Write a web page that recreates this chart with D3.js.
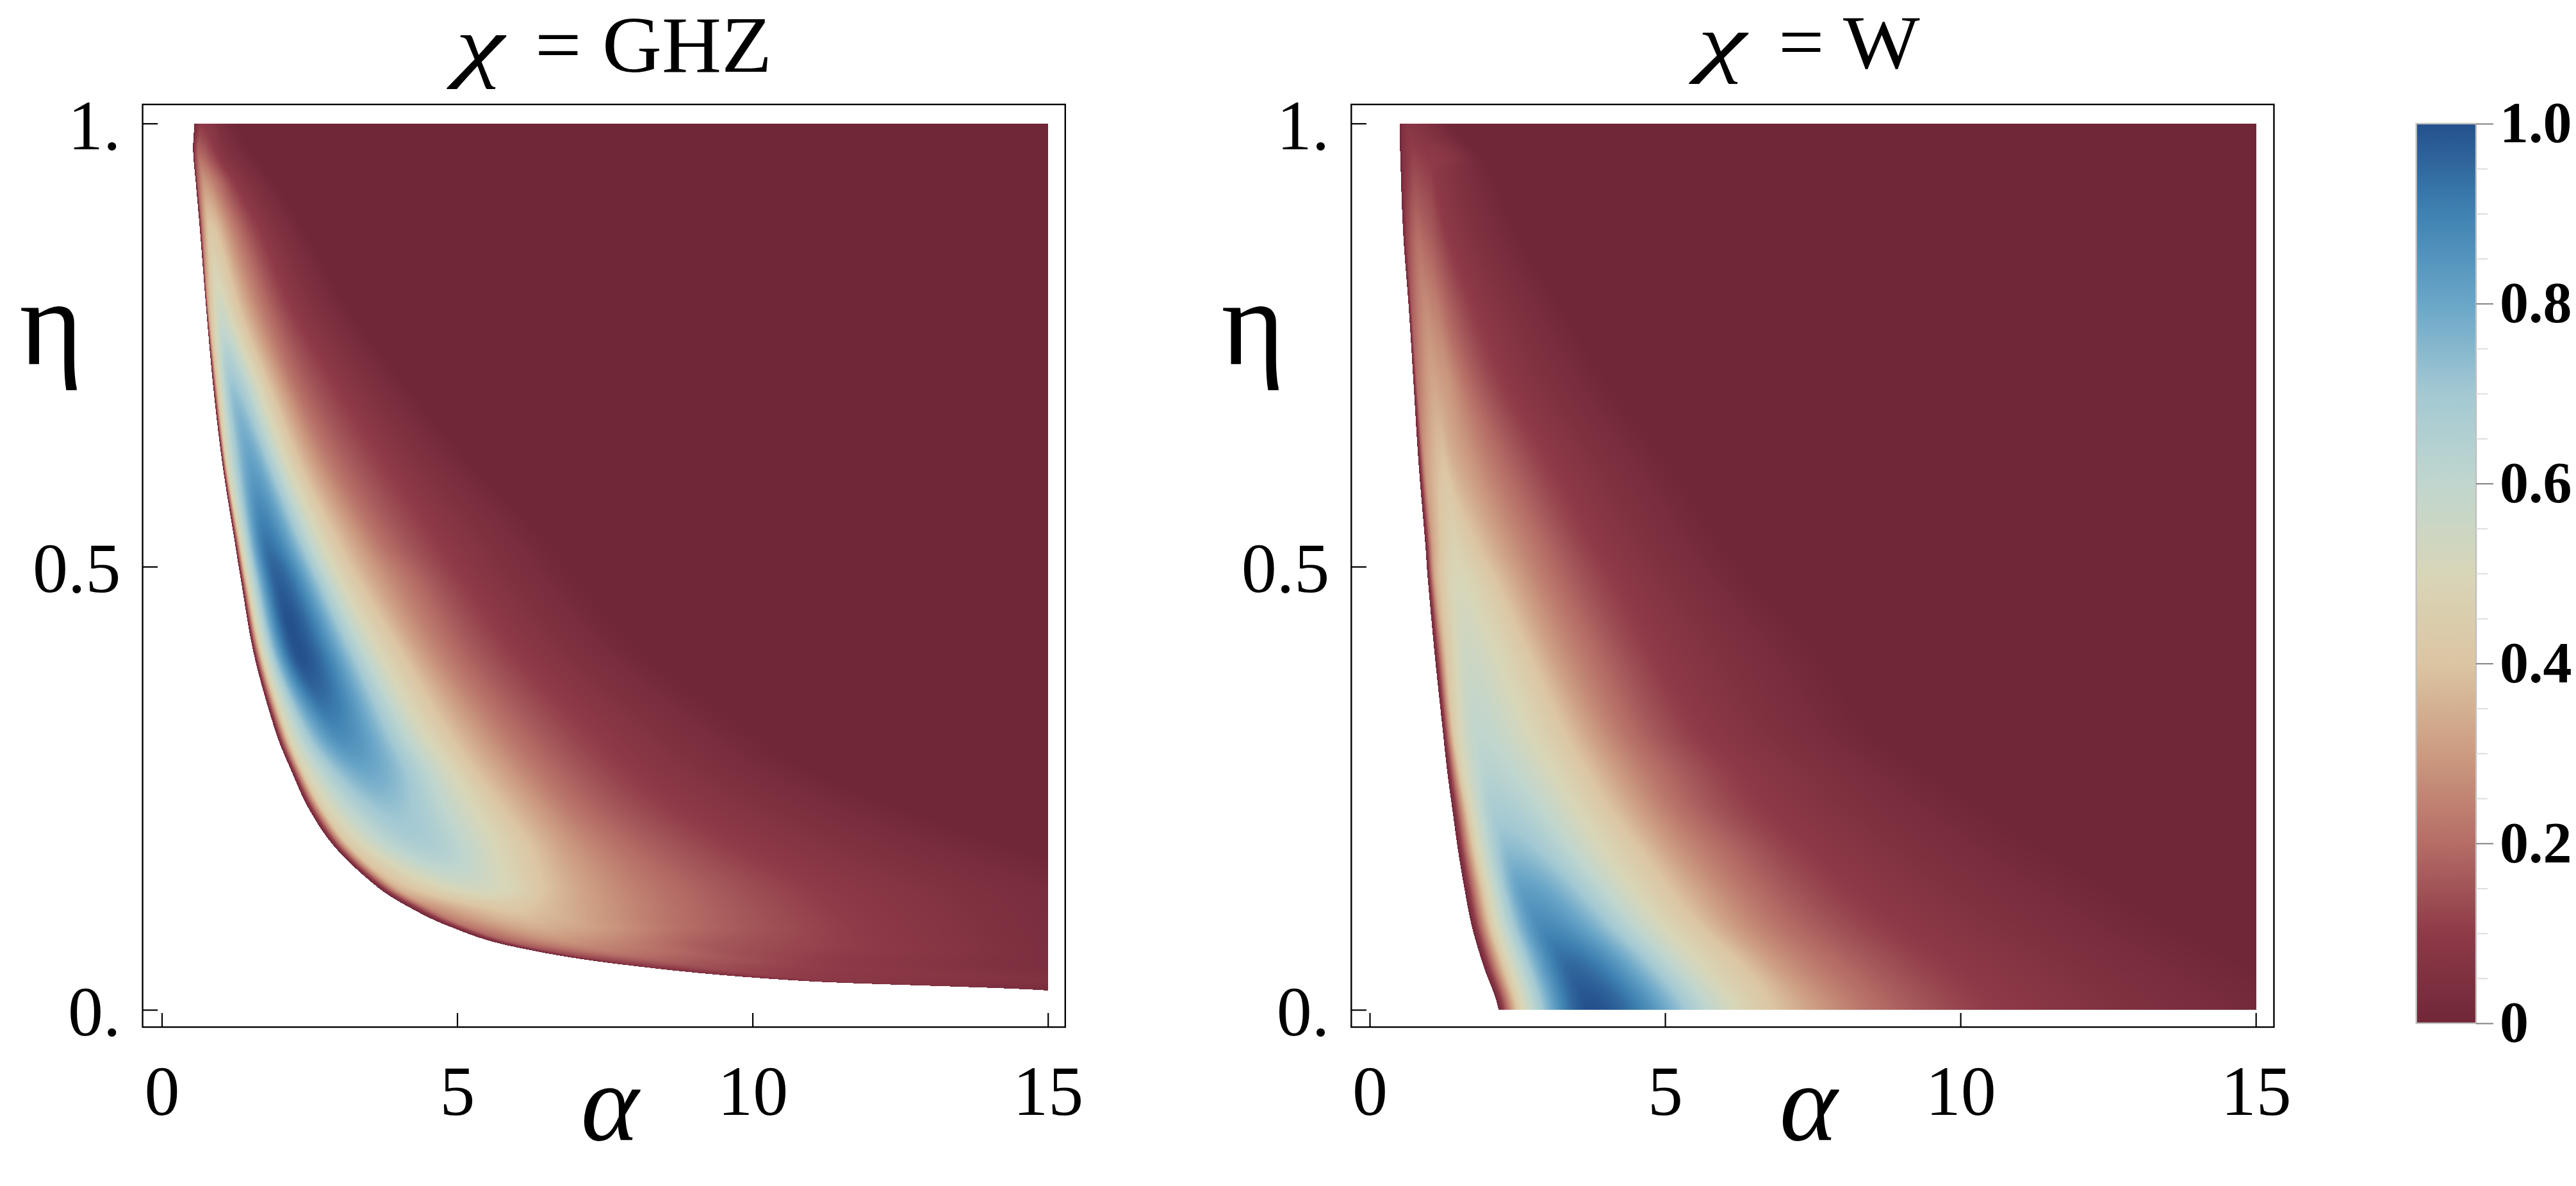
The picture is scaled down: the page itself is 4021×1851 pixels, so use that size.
<!DOCTYPE html>
<html><head><meta charset="utf-8">
<script src="https://cdn.jsdelivr.net/npm/d3@7/dist/d3.min.js"></script>
<style>html,body{margin:0;padding:0;background:#fff}svg{display:block}text{font-family:"Liberation Serif",serif;fill:#000}</style>
</head><body>
<script>
// Tick labels
const alphaTicks = [0, 5, 10, 15];
const etaTicks = [0, 0.5, 1];
const etaTickLabels = ["0.", "0.5", "1."];
const legendTicks = [0, 0.2, 0.4, 0.6, 0.8, 1];
const legendLabels = ["0", "0.2", "0.4", "0.6", "0.8", "1.0"];
const legendMinor = [0.05,0.1,0.15,0.25,0.3,0.35,0.45,0.5,0.55,0.65,0.7,0.75,0.85,0.9,0.95];
const colorDomain = [0,0.1,0.2,0.3,0.4,0.5,0.6,0.7,0.8,0.9,1];
const colorRange = ["#702738","#8e3a48","#b56d66","#cc9b80","#dcc5a2","#d8d6b8","#c0d6ce","#a3c9d3","#6aa6c8","#3f82b2","#24508c"];

// GHZ panel: each row is one eta; stops across the row run boundary, rise, peak, then the fall
const ghzEta = [1,0.97,0.93,0.876,0.789,0.701,0.614,0.526,0.4886,0.401,0.313,0.27,0.2255,0.182,0.138,0.116,0.094,0.072,0.0506,0.0325,0.0217];
const ghzAlpha = [
[0.55,0.58,0.66,0.72,0.78,0.85,0.92,1.0,1.25],
[0.53,0.56,0.63,0.68,0.73,0.78,0.84,1.0,1.5],
[0.58,0.62,0.73,0.78,0.84,0.9,1.0,1.27,1.95],
[0.65,0.70,0.82,0.90,0.98,1.12,1.34,1.69,2.45],
[0.754,0.80,1.0,1.2,1.32,1.53,1.80,2.23,3.2],
[0.874,0.95,1.2,1.66,1.84,2.06,2.33,2.99,4.2],
[1.03,1.12,1.52,2.14,2.35,2.62,3.0,3.83,5.3],
[1.24,1.35,1.78,2.73,3.0,3.35,3.79,4.73,6.6],
[1.33,1.45,1.95,3.0,3.3,3.68,4.22,5.1,7.0],
[1.56,1.72,2.33,3.7,4.07,4.45,5.0,6.05,8.2],
[1.93,2.15,3.0,4.45,4.85,5.35,6.0,7.3,10],
[2.19,2.42,3.45,4.9,5.3,5.85,6.55,7.95,11],
[2.5,2.78,3.9,5.3,5.8,6.4,7.15,8.8,12.6],
[2.95,3.25,4.5,5.66,6.25,6.9,7.9,9.9,14.5],
[3.66,4.0,5.35,5.85,6.46,7.3,8.6,11.1,16.5],
[4.18,4.55,5.9,6.1,6.5,7.4,8.8,11.5,17],
[4.87,5.2,6.46,6.7,7.0,7.5,8.9,11.8,17],
[5.9,6.2,7.2,7.5,7.8,8.2,9.3,12,17],
[7.85,8.05,9.0,9.5,10,10.5,11.2,13,18],
[10.87,11.0,11.4,11.8,12.3,13,14,15.5,18],
[15,15.1,15.2,15.3,15.4,15.5,15.6,15.7,21]];
const ghzValue = [
[0,0.05,0.1,0.09,0.08,0.07,0.06,0.04,0],
[0,0.1,0.18,0.17,0.16,0.14,0.12,0.07,0],
[0,0.18,0.3,0.29,0.27,0.24,0.2,0.1,0],
[0,0.25,0.42,0.41,0.38,0.3,0.2,0.1,0],
[0,0.35,0.55,0.46,0.4,0.3,0.2,0.1,0],
[0,0.42,0.72,0.5,0.4,0.3,0.2,0.1,0],
[0,0.5,0.82,0.5,0.4,0.3,0.2,0.1,0],
[0,0.5,0.93,0.5,0.4,0.3,0.2,0.1,0],
[0,0.5,0.97,0.5,0.4,0.3,0.2,0.1,0],
[0,0.5,1.0,0.5,0.4,0.3,0.2,0.1,0],
[0,0.5,0.88,0.5,0.4,0.3,0.2,0.1,0],
[0,0.48,0.8,0.5,0.4,0.3,0.2,0.1,0],
[0,0.46,0.72,0.5,0.4,0.3,0.2,0.1,0],
[0,0.42,0.66,0.5,0.4,0.3,0.2,0.1,0],
[0,0.36,0.53,0.5,0.4,0.3,0.2,0.1,0],
[0,0.28,0.42,0.41,0.38,0.3,0.2,0.1,0],
[0,0.22,0.35,0.34,0.33,0.3,0.2,0.1,0],
[0,0.16,0.26,0.25,0.24,0.22,0.16,0.1,0],
[0,0.09,0.15,0.14,0.13,0.12,0.105,0.07,0],
[0,0.05,0.09,0.085,0.08,0.07,0.065,0.05,0],
[0,0.02,0.03,0.03,0.03,0.03,0.03,0.03,0]];

// W panel
const wEta = [1,0.958,0.876,0.789,0.701,0.614,0.526,0.4886,0.401,0.313,0.27,0.2255,0.182,0.138,0.094,0.0506,0];
const wAlpha = [
[0.505,0.54,0.66,0.72,0.78,0.84,0.9,1.0,1.35],
[0.52,0.58,0.76,0.82,0.88,0.94,1.0,1.04,1.95],
[0.567,0.63,0.83,0.88,0.94,1.0,1.06,1.31,2.5],
[0.664,0.72,0.97,1.03,1.09,1.15,1.28,1.8,3.3],
[0.747,0.82,1.11,1.17,1.23,1.32,1.7,2.35,4.1],
[0.83,0.95,1.28,1.34,1.40,1.7,2.25,3.1,5.1],
[0.94,1.08,1.45,1.6,1.8,2.28,2.9,3.8,6],
[0.98,1.12,1.49,1.75,2.1,2.56,3.15,4.15,6.4],
[1.10,1.30,1.66,2.15,2.7,3.15,3.8,4.85,7.6],
[1.24,1.45,1.85,2.7,3.3,3.8,4.43,5.6,8.5],
[1.31,1.58,2.0,3.08,3.67,4.2,4.9,6.2,9.4],
[1.40,1.73,2.15,3.5,4.08,4.63,5.33,6.7,10.4],
[1.49,1.85,2.35,3.94,4.57,5.12,5.95,7.4,11.4],
[1.60,2.0,2.6,4.43,5.05,5.67,6.5,8.1,12.5],
[1.73,2.15,2.95,4.98,5.6,6.2,7.1,8.9,13.6],
[1.92,2.37,3.39,5.6,6.3,6.9,7.9,9.8,14.8],
[2.18,2.6,3.74,6.2,6.85,7.6,8.6,10.6,16]];
const wValue = [
[0,0.04,0.08,0.075,0.07,0.065,0.06,0.05,0],
[0,0.07,0.12,0.115,0.11,0.105,0.1,0.1,0],
[0,0.12,0.2,0.19,0.18,0.17,0.16,0.1,0],
[0,0.17,0.27,0.26,0.25,0.24,0.2,0.1,0],
[0,0.22,0.33,0.32,0.31,0.3,0.2,0.1,0],
[0,0.3,0.4,0.38,0.36,0.3,0.2,0.1,0],
[0,0.33,0.47,0.44,0.4,0.3,0.2,0.1,0],
[0,0.35,0.5,0.47,0.4,0.3,0.2,0.1,0],
[0,0.4,0.55,0.5,0.4,0.3,0.2,0.1,0],
[0,0.45,0.6,0.5,0.4,0.3,0.2,0.1,0],
[0,0.48,0.63,0.5,0.4,0.3,0.2,0.1,0],
[0,0.5,0.68,0.5,0.4,0.3,0.2,0.1,0],
[0,0.5,0.74,0.5,0.4,0.3,0.2,0.1,0],
[0,0.5,0.82,0.5,0.4,0.3,0.2,0.1,0],
[0,0.5,0.88,0.5,0.4,0.3,0.2,0.1,0],
[0,0.5,0.95,0.5,0.4,0.3,0.2,0.1,0],
[0,0.5,1.0,0.5,0.4,0.3,0.2,0.1,0]];

const pageW = 4021, pageH = 1851;
const frameTop = 163, frameBottom = 1603, tickY1 = 192.7, tickY0 = 1576;
const colorScale = d3.scaleLinear().domain(colorDomain).range(colorRange).clamp(true);
const lut = d3.range(1025).map(i=>d3.rgb(colorScale(i/1024)));
const svg = d3.select("body").append("svg").attr("width", pageW).attr("height", pageH);

const panels = [
 {name:"= GHZ", left:222.6, right:1662.8, x0:252.5, x15:1635.7, eta:ghzEta, a:ghzAlpha, v:ghzValue,
  chiX:711, chiLen:76, restX:835, restLen:370, titleY:112, titleSize:125, etaX:80, alphaX:952},
 {name:"= W", left:2109.3, right:3549.5, x0:2138, x15:3521.2, eta:wEta, a:wAlpha, v:wValue,
  chiX:2650, chiLen:76, restX:2776, restLen:221, titleY:106, titleSize:118, etaX:1956, alphaX:2823}
];

function drawField(p, xScale, yScale){
  const x0 = Math.floor(p.x0), x1 = Math.ceil(xScale(15));
  const y0 = Math.floor(yScale(1)), y1 = Math.ceil(yScale(0));
  const cw = x1-x0, ch = y1-y0;
  const cv = document.createElement("canvas"); cv.width = cw; cv.height = ch;
  const ctx = cv.getContext("2d"); const img = ctx.createImageData(cw,ch);
  const asc = p.eta.slice().reverse(), aR = p.a.slice().reverse(), vR = p.v.slice().reverse();
  const K = p.a[0].length;
  const pick = (M,i,k)=>M[Math.max(0,Math.min(M.length-1,i))][k];
  // Hermite blend between neighbouring rows so the drawn field has no creases
  const blend = (M,i,k,t)=>{
    const e0=asc[i],e1=asc[i+1], h=e1-e0;
    const pm=pick(M,i-1,k),p0=pick(M,i,k),p1=pick(M,i+1,k),p2=pick(M,i+2,k);
    const em=i>0?asc[i-1]:e0-h, e2=i+2<asc.length?asc[i+2]:e1+h;
    const m0=(p1-pm)/(e1-em)*h, m1=(p2-p0)/(e2-e0)*h;
    const t2=t*t,t3=t2*t;
    const r=(2*t3-3*t2+1)*p0+(t3-2*t2+t)*m0+(-2*t3+3*t2)*p1+(t3-t2)*m1;
    return Math.min(Math.max(p0,p1),Math.max(Math.min(p0,p1),r));
  };
  for(let py=0;py<ch;py++){
    const eta = yScale.invert(py+y0+0.5);
    if(eta<asc[0]||eta>1) continue;
    const i = Math.min(d3.bisectRight(asc,eta)-1,asc.length-2);
    const t=(eta-asc[i])/(asc[i+1]-asc[i]);
    const A=[],V=[];
    for(let k=0;k<K;k++){A.push(blend(aR,i,k,t));V.push(blend(vR,i,k,t));}
    for(let k=1;k<K;k++) if(A[k]<=A[k-1]) A[k]=A[k-1]+1e-4;
    // monotone cubic along the row: rounded crest, no overshoot
    const d=[],m=new Array(K);
    for(let k=0;k<K-1;k++) d.push((V[k+1]-V[k])/(A[k+1]-A[k]));
    m[0]=d[0]; m[K-1]=d[K-2];
    for(let k=1;k<K-1;k++) m[k]= d[k-1]*d[k]<=0?0:2*d[k-1]*d[k]/(d[k-1]+d[k]);
    let seg=0;
    for(let px=0;px<cw;px++){
      const al = xScale.invert(px+x0+0.5);
      if(al<A[0]||al>15.02) continue;
      let val;
      if(al>=A[K-1]) val=V[K-1];
      else {
        while(seg<K-2&&al>A[seg+1]) seg++;
        const h=A[seg+1]-A[seg], u=(al-A[seg])/h, u2=u*u,u3=u2*u;
        val=(2*u3-3*u2+1)*V[seg]+(u3-2*u2+u)*h*m[seg]+(-2*u3+3*u2)*V[seg+1]+(u3-u2)*h*m[seg+1];
        val=Math.max(0,Math.min(1,val));
      }
      const c = lut[Math.round(val*1024)];
      const o=(py*cw+px)*4;
      img.data[o]=c.r;img.data[o+1]=c.g;img.data[o+2]=c.b;img.data[o+3]=255;
    }
  }
  ctx.putImageData(img,0,0);
  svg.append("image").attr("x",x0).attr("y",y0).attr("width",cw).attr("height",ch)
     .attr("href",cv.toDataURL());
}

panels.forEach(p=>{
  const x = d3.scaleLinear().domain([0,15]).range([p.x0,p.x15]);
  const y = d3.scaleLinear().domain([0,1]).range([tickY0,tickY1]);
  drawField(p,x,y);
  svg.append("rect").attr("x",p.left).attr("y",frameTop).attr("width",p.right-p.left).attr("height",frameBottom-frameTop)
     .attr("fill","none").attr("stroke","#000").attr("stroke-width",2.4);
  const gx = svg.append("g").attr("transform",`translate(0,${frameBottom})`)
     .call(d3.axisBottom(x).tickValues(alphaTicks).tickFormat(d3.format("d")).tickSize(-22).tickPadding(59));
  const gy = svg.append("g").attr("transform",`translate(${p.left},0)`)
     .call(d3.axisLeft(y).tickValues(etaTicks).tickFormat((d,i)=>etaTickLabels[i]).tickSize(-23.6).tickPadding(34));
  [gx,gy].forEach(g=>{
    g.select(".domain").remove();
    g.selectAll("line").attr("stroke","#000").attr("stroke-width",2.2);
    g.selectAll("text").attr("font-size",110).attr("font-family","Liberation Serif").attr("fill","#000");
  });
  gy.selectAll("text").attr("dy","0.36em");
  svg.append("text").attr("x",p.chiX).attr("y",p.titleY).attr("font-size",p.titleSize).attr("font-style","italic")
     .attr("textLength",p.chiLen).attr("lengthAdjust","spacingAndGlyphs").text("χ");
  svg.append("text").attr("x",p.restX).attr("y",p.titleY).attr("font-size",p.titleSize)
     .attr("textLength",p.restLen).attr("lengthAdjust","spacingAndGlyphs").text(p.name);
  svg.append("text").attr("x",p.etaX).attr("y",568).attr("text-anchor","middle").attr("font-size",190).text("η");
  svg.append("text").attr("x",p.alphaX).attr("y",1779).attr("text-anchor","middle").attr("font-size",172).attr("font-style","italic").text("α");
});

// colour bar
const bx0=3771.7,bx1=3865,by0=193,by1=1597;
const ly = d3.scaleLinear().domain([0,1]).range([by1,by0]);
const defs = svg.append("defs");
const grad = defs.append("linearGradient").attr("id","cb").attr("x1",0).attr("x2",0).attr("y1",1).attr("y2",0);
colorDomain.forEach((d,i)=>grad.append("stop").attr("offset",d).attr("stop-color",colorRange[i]));
svg.append("rect").attr("x",bx0).attr("y",by0).attr("width",bx1-bx0).attr("height",by1-by0).attr("fill","url(#cb)")
   .attr("stroke","#c0c0c0").attr("stroke-width",2.4);
const gm = svg.append("g").attr("transform",`translate(${bx1},0)`)
   .call(d3.axisRight(ly).tickValues(legendMinor).tickFormat("").tickSize(18));
gm.select(".domain").remove(); gm.selectAll("line").attr("stroke","#dcdcdc").attr("stroke-width",2);
const gl = svg.append("g").attr("transform",`translate(${bx1},0)`)
   .call(d3.axisRight(ly).tickValues(legendTicks).tickFormat((d,i)=>legendLabels[i]).tickSize(27).tickPadding(10));
gl.select(".domain").remove(); gl.selectAll("line").attr("stroke","#808080").attr("stroke-width",2);
gl.selectAll("text").attr("font-size",90).attr("font-weight","bold").attr("font-family","Liberation Serif").attr("fill","#000");
</script>
</body></html>
